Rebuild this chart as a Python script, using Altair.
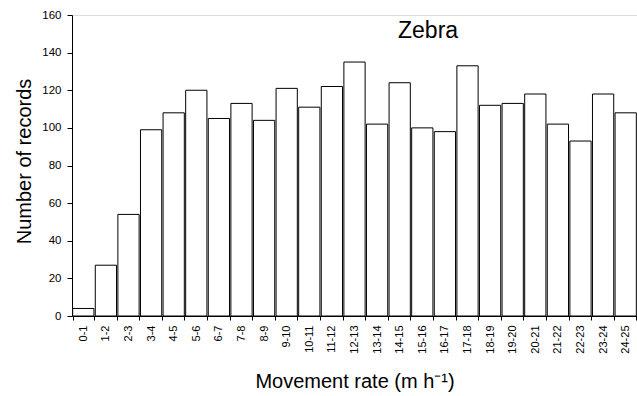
import altair as alt
import pandas as pd

# Movement-rate classes (m per hour) and the number of records in each
rate_classes = [
    "0-1", "1-2", "2-3", "3-4", "4-5", "5-6", "6-7", "7-8", "8-9", "9-10",
    "10-11", "11-12", "12-13", "13-14", "14-15", "15-16", "16-17", "17-18",
    "18-19", "19-20", "20-21", "21-22", "22-23", "23-24", "24-25",
]
record_counts = [
    4, 27, 54, 99, 108, 120, 105, 113, 104, 121,
    111, 122, 135, 102, 124, 100, 98, 133,
    112, 113, 118, 102, 93, 118, 108,
]
y_ticks = [0, 20, 40, 60, 80, 100, 120, 140, 160]
panel_name = ["Zebra"]

df = pd.DataFrame({"rate": rate_classes, "records": record_counts})

FONT = "Liberation Sans"

bars = (
    alt.Chart(df)
    .mark_bar(fill="white", stroke="black", strokeWidth=1)
    .encode(
        x=alt.X(
            "rate:N",
            sort=rate_classes,
            scale=alt.Scale(paddingInner=0.06, paddingOuter=0.03),
            axis=alt.Axis(
                title="Movement rate (m h⁻¹)",
                titleFontSize=20,
                titleFontWeight="normal",
                titleFont=FONT,
                titleColor="black",
                titleBaseline="alphabetic",
                titleY=71,
                labelAngle=-90,
                labelAlign="right",
                labelBaseline="middle",
                labelFontSize=11,
                labelFont=FONT,
                labelColor="black",
                labelPadding=5,
                tickBand="extent",
                tickSize=4,
                tickColor="black",
                domainColor="black",
                grid=False,
            ),
        ),
        y=alt.Y(
            "records:Q",
            scale=alt.Scale(domain=[0, 160], nice=False),
            axis=alt.Axis(
                title="Number of records",
                values=y_ticks,
                titleFontSize=20,
                titleFontWeight="normal",
                titleFont=FONT,
                titleColor="black",
                titleAngle=-90,
                titleBaseline="alphabetic",
                titleAlign="center",
                titleX=-42,
                titleY=146,
                labelFontSize=11.5,
                labelFont=FONT,
                labelColor="black",
                labelPadding=6,
                tickSize=5,
                tickColor="black",
                domainColor="black",
                grid=False,
            ),
        ),
    )
)

# Panel label placed inside the plot area, upper right
panel_label = (
    alt.Chart(pd.DataFrame({"panel": panel_name}))
    .mark_text(
        font=FONT,
        fontSize=23,
        color="black",
        align="left",
        baseline="alphabetic",
    )
    .encode(text="panel:N", x=alt.value(326), y=alt.value(23))
)

chart = (
    alt.layer(bars, panel_label)
    .properties(
        width=565,
        height=301,
        autosize=alt.AutoSizeParams(type="none"),
        padding={"left": 72, "top": 15, "right": 0, "bottom": 80},
    )
    .configure_view(stroke=None)
    .configure(background="white")
)

chart.save("out.html", embed_options={"renderer": "svg", "actions": False})
